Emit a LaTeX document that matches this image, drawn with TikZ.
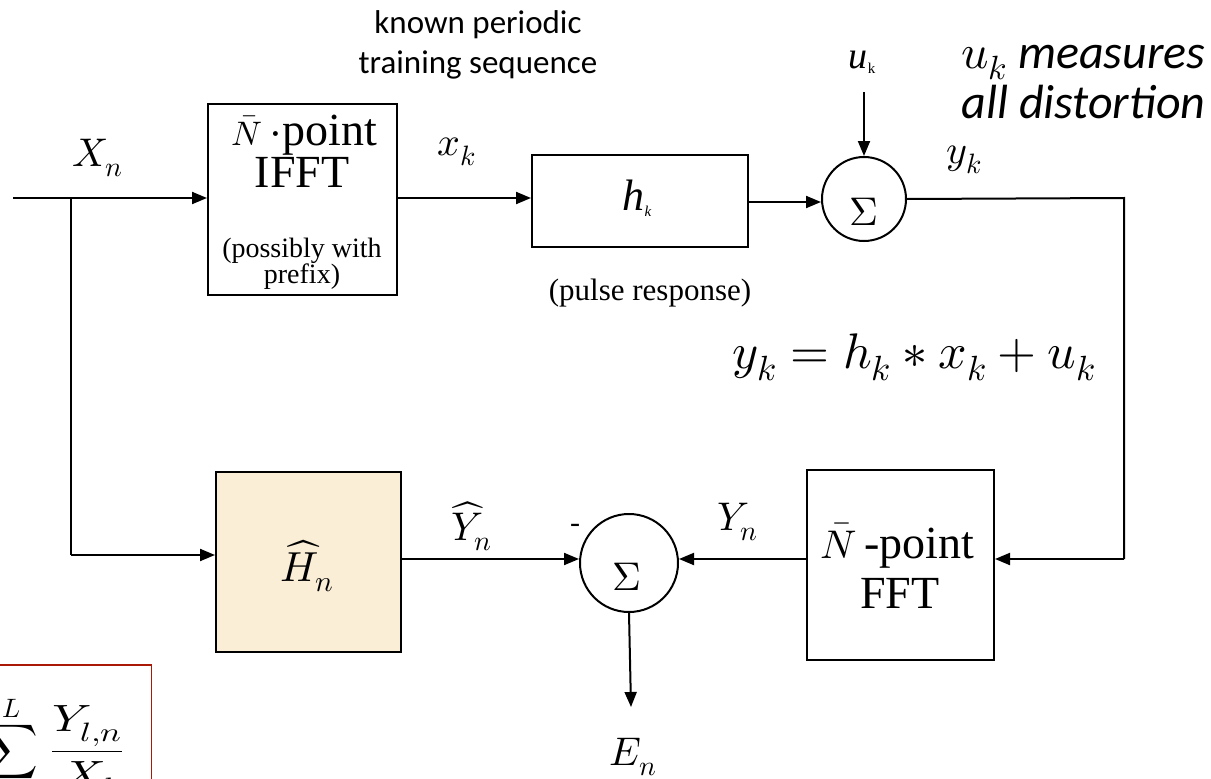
\documentclass[tikz,border=0pt]{standalone}
\usepackage{fontspec}
\usepackage{unicode-math}
\setmainfont{Liberation Serif}
\setmathfont{Latin Modern Math}
\newfontfamily\calibfont{Carlito}
\usetikzlibrary{arrows.meta}
\definecolor{boxred}{RGB}{170,25,5}
\definecolor{paper}{RGB}{250,238,214}
\begin{document}
\begin{tikzpicture}[x=1pt,y=-1pt,
  blk/.style={draw,line width=2pt,inner sep=0pt},
  sumc/.style={draw,circle,line width=2pt,inner sep=0pt},
  conn/.style={line width=2pt,-{Triangle[length=15pt,width=12pt]}},
  wire/.style={line width=2pt},
  big/.style={font=\fontsize{46}{46}\selectfont},
  mid/.style={font=\fontsize{28}{28}\selectfont},
  lab/.style={font=\fontsize{40}{40}\selectfont},
  cal/.style={font=\fontsize{33}{33}\calibfont},
  calit/.style={font=\fontsize{48}{48}\calibfont\itshape}]
\useasboundingbox (0,0) rectangle (1211,779);
\clip (0,0) rectangle (1211,779);

% blocks
\node[blk,minimum width=189pt,minimum height=191pt] (ifft) at (302.5,199.5) {};
\node[blk,minimum width=216pt,minimum height=92pt] (h) at (640,201) {};
\node[sumc,minimum size=84pt] (s1) at (864,199) {};
\node[blk,fill=paper,minimum width=185pt,minimum height=180pt] (hhat) at (308.5,562) {};
\node[sumc,minimum size=98pt] (s2) at (629,563) {};
\node[blk,minimum width=187pt,minimum height=190pt] (fft) at (900.5,565) {};

% texts in blocks
\node[big,anchor=base] (t1) at (304,145) {{\fontsize{34}{34}\selectfont$\bar{N}$}\,$\cdot$point};
\node[big,anchor=base] (t2) at (302,187) {IFFT};
\node[mid,anchor=base] (t3) at (302,257) {(possibly with};
\node[mid,anchor=base] (t4) at (302,283) {prefix)};
\node[font=\fontsize{44}{44}\selectfont] (t5) at (637,198) {\textit{h}\raisebox{-6pt}{\fontsize{15}{15}\selectfont\itshape k}};
\node[font=\fontsize{40}{40}\selectfont] (t6) at (864,212) {$\Sigma$};
\node[font=\fontsize{40}{40}\selectfont] (t7) at (627,577) {$\Sigma$};
\node[font=\fontsize{42}{42}\selectfont] (t8) at (307,566) {$\widehat{H}_n$};
\node[big,anchor=base] (t9) at (897,558) {{\fontsize{40}{40}\selectfont$\bar{N}$}\,-point};
\node[big,anchor=base] (t10) at (900,608) {FFT};

% labels
\node[cal,anchor=base] (k1) at (478,33) {known periodic};
\node[cal,anchor=base] (k2) at (478,73) {training sequence};
\node[font=\fontsize{31}{31}\selectfont,anchor=base] (pr) at (650,300) {(pulse response)};
\node[lab] (lX) at (98,158) {$X_n$};
\node[lab] (lx) at (457,152) {$x_k$};
\node[lab] (ly) at (964,160) {$y_k$};
\node[font=\fontsize{38}{38}\selectfont] (lu) at (862,62) {\textit{u}\raisebox{-5pt}{\fontsize{15}{15}\selectfont k}};
\node[calit,anchor=base west] (m1) at (958,68) {$u_k$ measures};
\node[calit,anchor=base west] (m2) at (958,118) {all distortion};
\node[font=\fontsize{50}{50}\selectfont,anchor=base] (eq) at (914,368) {$y_k = h_k * x_k + u_k$};
\node[lab] (lYh) at (472,526) {$\widehat{Y}_n$};
\node[lab] (lY) at (738,522) {$Y_n$};
\node[font=\fontsize{30}{30}\selectfont] (minus) at (575,528) {-};
\node[lab] (lE) at (633,757) {$E_n$};

% formula box (clipped)
\node[draw=boxred,line width=1.5pt,minimum width=170pt,minimum height=140pt,anchor=north east] (fb) at (152,664) {};
\node[font=\fontsize{38}{38}\selectfont,anchor=base east,inner sep=0pt] (fm) at (124,761) {$\displaystyle\sum_{l=1}^{L}$\hspace{12pt}\scalebox{1.3}[1]{$\displaystyle\frac{Y_{l,n}}{X_{l}}$}};

% connectors
\coordinate (in) at (13,198);
\coordinate (br) at (71,198);
\coordinate (bd) at (71,555);
\coordinate (rc) at (1124,198);
\coordinate (rd) at (1124,559);
\coordinate (ut) at (864,92);
\coordinate (eo) at (631,707);
\draw[conn] (in) -- (ifft.west |- in);
\draw[wire] (br) -- (bd);
\draw[conn] (bd) -- (hhat.west |- bd);
\draw[conn] (ifft.east |- 0,198) -- (h.west |- 0,198);
\draw[conn] (h.east |- 0,202) -- (s1.west |- 0,202);
\draw[conn] (ut) -- (s1.north);
\draw[wire] (s1.east) -- (rc) -- (rd);
\draw[conn] (rd) -- (fft.east |- rd);
\draw[conn] (fft.west |- 0,559) -- (s2.east |- 0,559);
\draw[conn] (hhat.east |- 0,559) -- (s2.west |- 0,559);
\draw[conn] (s2.south) -- (eo);
\end{tikzpicture}
\end{document}
